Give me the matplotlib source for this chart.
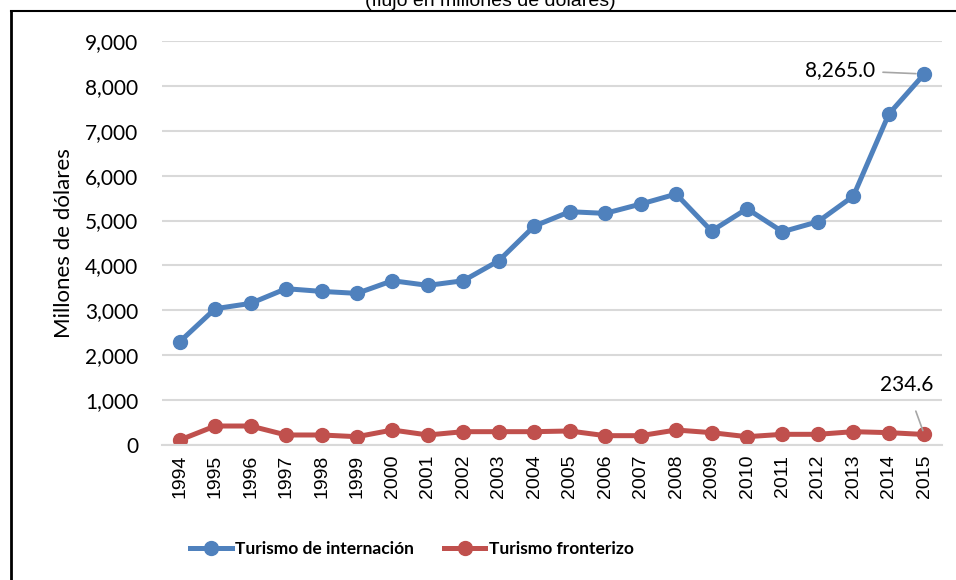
import matplotlib.pyplot as plt
from matplotlib.lines import Line2D

years = list(range(1994, 2016))
internacion = [2300, 3036, 3155, 3482, 3422, 3378, 3660, 3556, 3660, 4105, 4877,
               5197, 5160, 5367, 5590, 4766, 5264, 4751, 4974, 5545, 7372, 8265.0]
fronterizo = [111, 423, 423, 223, 223, 185, 334, 223, 297, 297, 297,
              312, 208, 208, 334, 275, 185, 238, 238, 297, 275, 234.6]
yticks = [0, 1000, 2000, 3000, 4000, 5000, 6000, 7000, 8000, 9000]

blue = '#4F81BD'
red = '#C0504D'
grid_c = '#d9d9d9'

fig = plt.figure(figsize=(9.56, 5.8), dpi=100)
ax = fig.add_axes([162/956, 1-445/580, (942-162)/956, (445-41)/580])

ax.plot(years, internacion, color=blue, lw=3.6, marker='o', ms=10, solid_capstyle='round')
ax.plot(years, fronterizo, color=red, lw=3.6, marker='o', ms=10, solid_capstyle='round')

ax.set_xlim(1993.5, 2015.5)
ax.set_ylim(0, 9000)
ax.set_yticks(yticks)
ax.set_yticklabels(['{:,}'.format(v) for v in yticks], family='Lato', fontsize=15)
ax.set_xticks(years)
ax.set_xticklabels([str(y) for y in years], rotation=90, family='Liberation Sans', fontsize=14)
ax.tick_params(axis='y', length=0, pad=17)
ax.tick_params(axis='x', length=0, pad=7)
ax.yaxis.grid(True, color=grid_c, lw=1.5)
ax.set_axisbelow(True)
for s in ['top', 'right', 'left']:
    ax.spines[s].set_visible(False)
ax.spines['bottom'].set_color(grid_c)
ax.spines['bottom'].set_linewidth(1.5)

ax.set_ylabel('Millones de dólares', family='Lato', fontsize=16, labelpad=8)

# etiquetas de datos
ax.annotate('8,265.0', xy=(years[-1], internacion[-1]), xytext=(2013.6, 8265 + 80),
            ha='right', va='center', family='Lato', fontsize=15,
            arrowprops=dict(arrowstyle='-', color='#a6a6a6', lw=1.2, shrinkA=4, shrinkB=6))
ax.annotate('234.6', xy=(years[-1], fronterizo[-1]), xytext=(2015.25, 1330),
            ha='right', va='center', family='Lato', fontsize=15,
            arrowprops=dict(arrowstyle='-', color='#a6a6a6', lw=1.2, shrinkA=10, shrinkB=3))

# leyenda
handles = [Line2D([], [], color=blue, lw=3.6, marker='o', ms=10),
           Line2D([], [], color=red, lw=3.6, marker='o', ms=10)]
fig.legend(handles, ['Turismo de internación', 'Turismo fronterizo'],
           loc='center', bbox_to_anchor=(412/956, 1-549/580), ncol=2, frameon=False,
           prop={'family': 'Lato', 'weight': 'bold', 'size': 12.5},
           handlelength=2.4, handletextpad=0.2, columnspacing=1.7)

# titulo recortado y marco
fig.text(490/956, 1-2/580, '(flujo en millones de dólares)', ha='center', va='center',
         family='Liberation Sans', fontsize=14)
fig.add_artist(Line2D([10.5/956, 1], [1-11/580, 1-11/580], color='black', lw=1.5))
fig.add_artist(Line2D([10.5/956, 10.5/956], [0, 1-11/580], color='black', lw=2))

fig.savefig('out.png', dpi=100)
